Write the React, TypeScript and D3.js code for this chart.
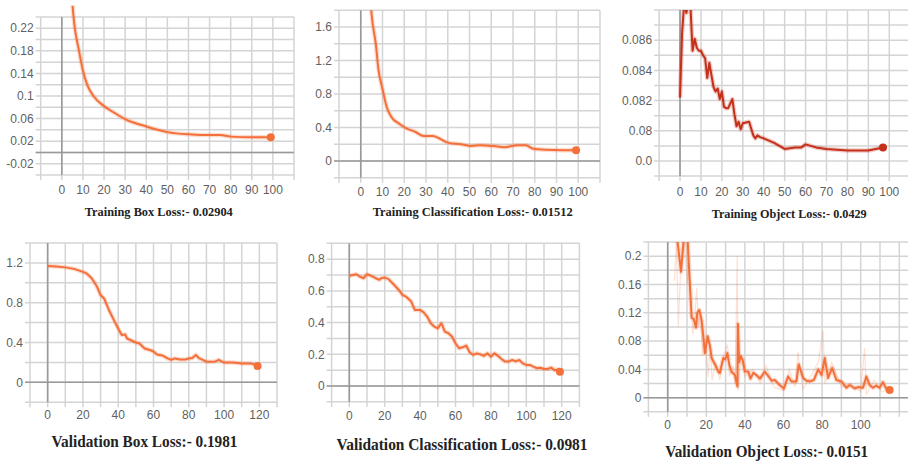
import * as d3 from "d3";
import { useEffect, useRef } from "react";

// ---- data ----
const trainBoxX = [4, 5, 6, 8, 10, 12, 15, 20, 25, 30, 40, 50, 60, 66, 75, 80, 90, 99];
const trainBoxY = [0.32, 0.264, 0.225, 0.183, 0.145, 0.12, 0.1, 0.082, 0.07, 0.059, 0.046, 0.036, 0.032, 0.031, 0.031, 0.028, 0.027, 0.027];

const trainClsX = [4, 5, 7, 8, 10, 12, 14, 18, 21, 25, 29, 33, 40, 46, 51, 55, 61, 66, 72, 76, 79, 85, 93, 99];
const trainClsY = [2.1, 1.75, 1.38, 1.12, 0.86, 0.64, 0.53, 0.44, 0.39, 0.35, 0.3, 0.3, 0.22, 0.2, 0.18, 0.19, 0.18, 0.165, 0.19, 0.19, 0.15, 0.135, 0.13, 0.13];

const trainObjX = [0, 1, 2, 3, 4, 5, 6, 7, 8, 9, 10, 11, 12, 13, 14, 15, 16, 17, 18, 19, 20, 21, 22, 23, 25, 26, 27, 28, 29, 30, 33, 35, 36, 37, 38, 40, 45, 50, 55, 58, 60, 65, 70, 80, 90, 97];
const trainObjY = [
  0.0822, 0.0865, 0.0885, 0.0878, 0.0884, 0.0882, 0.0853, 0.0861, 0.0855, 0.0853, 0.0853, 0.085, 0.0848, 0.0835,
  0.0845, 0.0837, 0.0829, 0.0826, 0.0828, 0.0821, 0.0826, 0.0816, 0.0815, 0.0815, 0.0821, 0.0811, 0.0803, 0.0806,
  0.0801, 0.0805, 0.0806, 0.0797, 0.0795, 0.0797, 0.0796, 0.0795, 0.0792, 0.0788, 0.0789, 0.0789, 0.0791, 0.0789,
  0.0788, 0.0787, 0.0787, 0.0789,
];

const valBoxX = [0, 5, 10, 15, 20, 22, 25, 28, 30, 32, 35, 38, 40, 42, 44, 45, 50, 52, 55, 58, 60, 62, 65, 68, 70, 72, 75, 78, 80, 82, 84, 86, 88, 90, 95, 97, 100, 105, 110, 115, 118, 119];
const valBoxY = [
  1.168, 1.165, 1.155, 1.14, 1.11, 1.095, 1.045, 0.96, 0.877, 0.843, 0.716, 0.61, 0.54, 0.475, 0.48, 0.44, 0.4,
  0.39, 0.34, 0.325, 0.31, 0.28, 0.27, 0.24, 0.225, 0.24, 0.23, 0.23, 0.24, 0.245, 0.275, 0.24, 0.225, 0.207, 0.21,
  0.225, 0.198, 0.2, 0.19, 0.19, 0.174, 0.164,
];

const valClsX = [0, 2, 4, 6, 8, 10, 12, 15, 17, 18, 20, 22, 25, 28, 30, 32, 35, 37, 40, 42, 44, 46, 48, 50, 52, 54, 56, 58, 60, 62, 64, 66, 68, 70, 72, 74, 76, 78, 80, 82, 84, 86, 88, 90, 92, 94, 96, 98, 100, 102, 104, 106, 108, 110, 112, 114, 116, 118, 119];
const valClsY = [
  0.695, 0.7, 0.705, 0.69, 0.68, 0.705, 0.697, 0.68, 0.67, 0.68, 0.684, 0.676, 0.642, 0.606, 0.575, 0.564, 0.533,
  0.48, 0.48, 0.465, 0.438, 0.396, 0.375, 0.364, 0.396, 0.343, 0.333, 0.312, 0.27, 0.238, 0.244, 0.255, 0.213, 0.196,
  0.206, 0.2, 0.19, 0.206, 0.185, 0.206, 0.19, 0.17, 0.154, 0.154, 0.164, 0.155, 0.164, 0.143, 0.133, 0.133, 0.122,
  0.112, 0.115, 0.107, 0.107, 0.116, 0.1, 0.105, 0.09,
];

const valObjX = [
  4.7, 6.9, 8.5, 10.2, 11.2, 12.4, 13.5, 14.7, 15.3, 16.4, 17.6, 19.3, 20.7, 21.9, 22.8, 24.5, 26.2, 27, 28.8, 29.8,
  30.9, 31.9, 33, 34.8, 36.1, 36.4, 37, 37.8, 38.8, 40, 41.7, 42.9, 44.3, 46, 47.8, 50.3, 52, 53.8, 55.5, 58, 60.2,
  62.4, 64.1, 66.7, 67.9, 70.2, 71.9, 73.5, 75.7, 78, 79.7, 81.4, 83.1, 85.2, 87.4, 90, 92.6, 94.3, 96.9, 98.6, 101.2,
  102.9, 104.6, 106.4, 108, 109.8, 111.5, 113.2, 115,
];
const valObjY = [
  0.23, 0.178, 0.23, 0.23, 0.175, 0.113, 0.111, 0.099, 0.12, 0.124, 0.109, 0.063, 0.087, 0.073, 0.056, 0.047, 0.037,
  0.035, 0.056, 0.054, 0.063, 0.047, 0.037, 0.032, 0.016, 0.104, 0.05, 0.059, 0.054, 0.037, 0.037, 0.027, 0.035, 0.032,
  0.027, 0.037, 0.031, 0.024, 0.025, 0.018, 0.013, 0.03, 0.023, 0.023, 0.047, 0.028, 0.024, 0.023, 0.025, 0.04, 0.032,
  0.056, 0.028, 0.042, 0.025, 0.023, 0.014, 0.018, 0.013, 0.015, 0.014, 0.03, 0.018, 0.014, 0.017, 0.014, 0.022, 0.013,
  0.011,
];
// faint raw (unsmoothed) trace behind the validation object loss
const valObjRawX = [3.5, 4.5, 5.5, 7, 8.5, 10, 11, 13, 14, 15, 16, 17, 18, 19, 20, 21, 22, 23, 25, 27, 29, 31, 32, 34, 35, 36, 36.5, 38, 40, 44, 48, 51, 55, 60, 63, 66, 67.5, 70, 74, 78, 80.5, 81.5, 85, 90, 95, 100, 102, 103, 107, 111, 115];
const valObjRawY = [0.165, 0.22, 0.1, 0.2, 0.23, 0.16, 0.19, 0.09, 0.11, 0.155, 0.1, 0.12, 0.06, 0.085, 0.07, 0.03, 0.075, 0.025, 0.05, 0.025, 0.06, 0.075, 0.03, 0.045, 0.02, 0.2, 0.01, 0.06, 0.03, 0.04, 0.02, 0.045, 0.015, 0.01, 0.04, 0.015, 0.065, 0.012, 0.03, 0.05, 0.095, 0.02, 0.05, 0.015, 0.02, 0.008, 0.07, 0.005, 0.025, 0.008, 0.012];

// ---- tick labels ----
const x100Ticks = [0, 10, 20, 30, 40, 50, 60, 70, 80, 90, 100];
const x120Ticks = [0, 20, 40, 60, 80, 100, 120];
const xObjTicks = [0, 20, 40, 60, 80, 100];

const trainBoxYTicks = [-0.02, 0.02, 0.06, 0.1, 0.14, 0.18, 0.22];
const trainBoxYLabels = ["-0.02", "0.02", "0.06", "0.1", "0.14", "0.18", "0.22"];
const trainClsYTicks = [0, 0.4, 0.8, 1.2, 1.6];
const trainClsYLabels = ["0", "0.4", "0.8", "1.2", "1.6"];
const trainObjYTicks = [0.078, 0.08, 0.082, 0.084, 0.086];
const trainObjYLabels = ["0.0", "0.08", "0.082", "0.084", "0.086"];
const valBoxYTicks = [0, 0.4, 0.8, 1.2];
const valBoxYLabels = ["0", "0.4", "0.8", "1.2"];
const valClsYTicks = [0, 0.2, 0.4, 0.6, 0.8];
const valClsYLabels = ["0", "0.2", "0.4", "0.6", "0.8"];
const valObjYTicks = [0, 0.04, 0.08, 0.12, 0.16, 0.2];
const valObjYLabels = ["0", "0.04", "0.08", "0.12", "0.16", "0.2"];

const titles = [
  "Training Box Loss:- 0.02904",
  "Training Classification Loss:- 0.01512",
  "Training Object Loss:- 0.0429",
  "Validation Box Loss:- 0.1981",
  "Validation Classification Loss:- 0.0981",
  "Validation Object Loss:- 0.0151",
];

const ORANGE = "#f4703a";
const DARKRED = "#c5301a";

type Panel = {
  title: string;
  xs: number[];
  ys: number[];
  rawX?: number[];
  rawY?: number[];
  color: string;
  xDomain: [number, number];
  yDomain: [number, number];
  xRange: [number, number];
  yRange: [number, number];
  yGrid: [number, number, number];
  xGridMax: number;
  xTicks: number[];
  yTicks: number[];
  yLabels: string[];
  xLabelY: number;
  titlePos: [number, number];
  titleSize: number;
  titleLen: number;
  linear?: boolean;
};

const panels: Panel[] = [
  {
    title: titles[0], xs: trainBoxX, ys: trainBoxY, color: ORANGE,
    xDomain: [-10, 110], yDomain: [-0.04, 0.26], xRange: [40.7, 294], yRange: [175, 5.7],
    yGrid: [-0.04, 0.24, 0.02], xGridMax: 110, xTicks: x100Ticks,
    yTicks: trainBoxYTicks, yLabels: trainBoxYLabels, xLabelY: 194,
    titlePos: [158.8, 216], titleSize: 13.5, titleLen: 148,
  },
  {
    title: titles[1], xs: trainClsX, ys: trainClsY, color: ORANGE,
    xDomain: [-10, 110], yDomain: [-0.2, 1.8], xRange: [339, 600], yRange: [177.8, 10.3],
    yGrid: [-0.2, 1.8, 0.2], xGridMax: 110, xTicks: x100Ticks,
    yTicks: trainClsYTicks, yLabels: trainClsYLabels, xLabelY: 196,
    titlePos: [472.7, 216], titleSize: 13.5, titleLen: 200,
  },
  {
    title: titles[2], xs: trainObjX, ys: trainObjY, color: DARKRED, linear: true,
    xDomain: [-10, 110], yDomain: [0.077, 0.088], xRange: [659.1, 910.2], yRange: [176.1, 10],
    yGrid: [0.077, 0.088, 0.001], xGridMax: 110, xTicks: x100Ticks,
    yTicks: trainObjYTicks, yLabels: trainObjYLabels, xLabelY: 196,
    titlePos: [789.2, 218], titleSize: 13.5, titleLen: 155,
  },
  {
    title: titles[3], xs: valBoxX, ys: valBoxY, color: ORANGE, linear: true,
    xDomain: [-10, 130], yDomain: [-0.2, 1.4], xRange: [30, 277], yRange: [402.2, 243],
    yGrid: [-0.2, 1.4, 0.2], xGridMax: 130, xTicks: x120Ticks,
    yTicks: valBoxYTicks, yLabels: valBoxYLabels, xLabelY: 419,
    titlePos: [144.5, 446.7], titleSize: 16.5, titleLen: 186,
  },
  {
    title: titles[4], xs: valClsX, ys: valClsY, color: ORANGE, linear: true,
    xDomain: [-10, 130], yDomain: [-0.1, 0.9], xRange: [331.6, 579.4], yRange: [401.85, 243.35],
    yGrid: [-0.1, 0.9, 0.1], xGridMax: 130, xTicks: x120Ticks,
    yTicks: valClsYTicks, yLabels: valClsYLabels, xLabelY: 420,
    titlePos: [462, 450], titleSize: 16.5, titleLen: 251,
  },
  {
    title: titles[5], xs: valObjX, ys: valObjY, rawX: valObjRawX, rawY: valObjRawY, color: ORANGE, linear: true,
    xDomain: [-10, 130], yDomain: [-0.02, 0.22], xRange: [648.4, 918.6], yRange: [411.85, 242.05],
    yGrid: [-0.02, 0.22, 0.02], xGridMax: 130, xTicks: xObjTicks,
    yTicks: valObjYTicks, yLabels: valObjYLabels, xLabelY: 429,
    titlePos: [766.7, 457], titleSize: 16.5, titleLen: 203,
  },
];

const App = () => {
  const ref = useRef<SVGSVGElement>(null);

  useEffect(() => {
    const svg = d3.select(ref.current);
    svg.selectAll("*").remove();

    panels.forEach((p, i) => {
      const x = d3.scaleLinear().domain(p.xDomain).range(p.xRange);
      const y = d3.scaleLinear().domain(p.yDomain).range(p.yRange);
      const [x0, x1] = p.xRange;
      const [yb, yt] = p.yRange;
      const g = svg.append("g");

      const [glo, ghi, gstep] = p.yGrid;
      const hLines = d3.range(0, Math.round((ghi - glo) / gstep) + 1).map((k) => glo + k * gstep);
      const vLines = d3.range(p.xDomain[0], p.xGridMax + 0.001, 10);
      const top = y(ghi);

      g.selectAll(".h")
        .data(hLines)
        .join("line")
        .attr("x1", x0 - 5)
        .attr("x2", Math.min(x1, 908))
        .attr("y1", (d) => y(d))
        .attr("y2", (d) => y(d))
        .attr("stroke", "#d4d4d4")
        .attr("stroke-width", 1.5);

      g.selectAll(".v")
        .data(vLines)
        .join("line")
        .attr("x1", (d) => x(d))
        .attr("x2", (d) => x(d))
        .attr("y1", top)
        .attr("y2", yb + 5)
        .attr("stroke", "#d4d4d4")
        .attr("stroke-width", 1.5);

      // zero axes
      if (p.yDomain[0] < 0)
        g.append("line")
          .attr("x1", x0 - 5).attr("x2", Math.min(x1, 908))
          .attr("y1", y(0)).attr("y2", y(0))
          .attr("stroke", "#999").attr("stroke-width", 1.6);
      g.append("line")
        .attr("x1", x(0)).attr("x2", x(0))
        .attr("y1", top).attr("y2", yb)
        .attr("stroke", "#999").attr("stroke-width", 1.6);

      // tick labels
      g.selectAll(".yl")
        .data(p.yTicks)
        .join("text")
        .attr("x", x0 - 7)
        .attr("y", (d) => y(d))
        .attr("dy", "0.35em")
        .attr("text-anchor", "end")
        .attr("font-family", "Liberation Sans, Arial, sans-serif")
        .attr("font-size", 12)
        .attr("fill", "#5f5f5f")
        .text((d, k) => p.yLabels[k]);

      g.selectAll(".xl")
        .data(p.xTicks)
        .join("text")
        .attr("x", (d) => x(d))
        .attr("y", p.xLabelY)
        .attr("text-anchor", "middle")
        .attr("font-family", "Liberation Sans, Arial, sans-serif")
        .attr("font-size", 12)
        .attr("fill", "#5f5f5f")
        .text((d) => String(d));

      // curves, clipped to the plot area
      const clipId = `clip${i}`;
      svg.append("clipPath").attr("id", clipId)
        .append("rect")
        .attr("x", x0).attr("y", yt)
        .attr("width", x1 - x0).attr("height", yb - yt);

      const line = d3
        .line<number>()
        .x((d, k) => x(p.xs[k]))
        .y((d) => y(d))
        .curve(p.linear ? d3.curveLinear : d3.curveMonotoneX);

      const plot = g.append("g").attr("clip-path", `url(#${clipId})`);

      if (p.rawX && p.rawY) {
        const raw = d3
          .line<number>()
          .x((d, k) => x(p.rawX![k]))
          .y((d) => y(d));
        plot.append("path")
          .attr("d", raw(p.rawY))
          .attr("fill", "none")
          .attr("stroke", p.color)
          .attr("stroke-opacity", 0.22)
          .attr("stroke-width", 1.2);
      }

      plot.append("path")
        .attr("d", line(p.ys))
        .attr("fill", "none")
        .attr("stroke", p.color)
        .attr("stroke-opacity", 0.25)
        .attr("stroke-width", 4.5)
        .attr("stroke-linejoin", "round");

      plot.append("path")
        .attr("d", line(p.ys))
        .attr("fill", "none")
        .attr("stroke", p.color)
        .attr("stroke-width", 2)
        .attr("stroke-linejoin", "round");

      const n = p.xs.length - 1;
      g.append("circle")
        .attr("cx", x(p.xs[n]))
        .attr("cy", y(p.ys[n]))
        .attr("r", 4)
        .attr("fill", p.color);

      g.append("text")
        .attr("x", p.titlePos[0])
        .attr("y", p.titlePos[1])
        .attr("text-anchor", "middle")
        .attr("font-family", "Liberation Serif, Times New Roman, serif")
        .attr("font-weight", "bold")
        .attr("font-size", p.titleSize)
        .attr("fill", "#222")
        .attr("textLength", p.titleLen)
        .attr("lengthAdjust", "spacingAndGlyphs")
        .text(p.title);
    });
  }, []);

  return (
    <svg
      ref={ref}
      width={908}
      height={463}
      style={{ position: "absolute", left: 0, top: 0, background: "#fff" }}
    />
  );
};

export default App;
